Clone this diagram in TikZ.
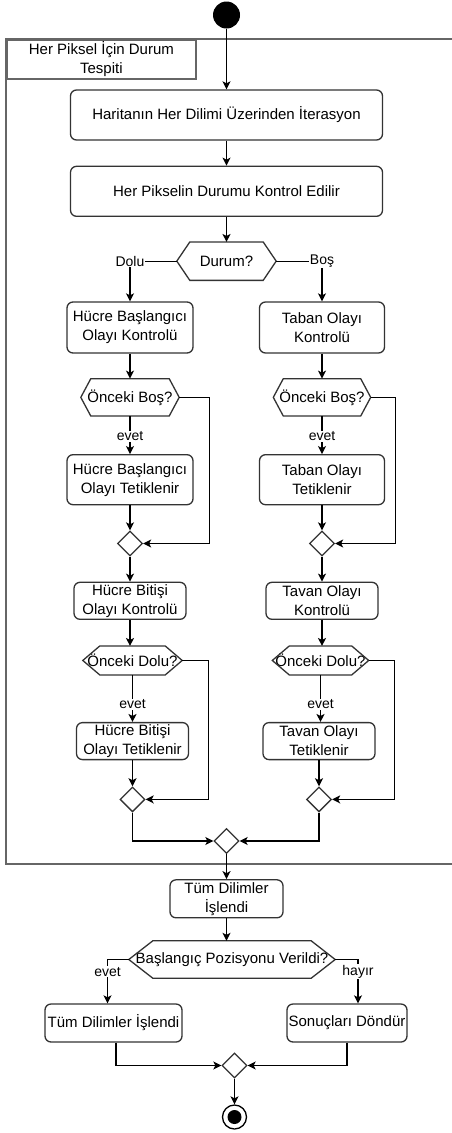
\documentclass[tikz,border=0pt]{standalone}
\usepackage{fontspec}
\setmainfont{Liberation Sans}
\usepackage{tikz}
\usetikzlibrary{arrows.meta,positioning,calc,shapes.geometric}

\begin{document}
\begin{tikzpicture}[
  x=1pt,y=-1pt,
  node distance=25pt,
  action/.style={draw=black!80,fill=white,rectangle,rounded corners=6pt,
    align=center,line width=1.3pt,inner sep=0pt,
    font=\fontsize{15}{19}\selectfont},
  decision/.style={rectangle,inner sep=0pt,align=center,
    font=\fontsize{15}{19}\selectfont},
  merge/.style={draw=black!80,fill=white,diamond,aspect=1,inner sep=0pt,
    minimum width=25pt,minimum height=25pt,line width=1.3pt},
  frame/.style={draw=black!60,line width=1.8pt},
  lbl/.style={fill=white,inner sep=1pt,font=\fontsize{14}{16}\selectfont},
  arrow/.style={-{Stealth[length=8pt,width=8pt,inset=2pt]},draw=black,line width=1.3pt}
]
  \useasboundingbox (0,0) rectangle (452,1133);

  % frame of the loop region
  \draw[frame] (452,39) -- (6,39) -- (6,864) -- (452,864);
  \node[draw=black!60,line width=1.8pt,rectangle,anchor=north west,
    minimum width=189pt,minimum height=39pt,inner sep=0pt,align=center,
    font=\fontsize{15}{19}\selectfont] (title) at (6,39)
    {Her Piksel İçin Durum\\Tespiti};

  \node[circle,fill=black,minimum size=27pt,inner sep=0pt] (start) at (226.5,15) {};
  \node[action,minimum width=312pt,minimum height=50pt] (iter) at (226.5,115)
    {Haritanın Her Dilimi Üzerinden İterasyon};
  \node[action,minimum width=312pt,minimum height=50pt,below=of iter] (check)
    {Her Pikselin Durumu Kontrol Edilir};
  \node[decision,minimum width=99pt,minimum height=38pt,below=of check] (durum) {Durum?};

  % dolu branch
  \node[action,minimum width=126pt,minimum height=51pt] (hbk) at (130,327.5)
    {Hücre Başlangıcı\\Olayı Kontrolü};
  \node[decision,minimum width=98pt,minimum height=37pt,below=of hbk] (obos1) {Önceki Boş?};
  \node[action,minimum width=126pt,minimum height=50pt,below=38pt of obos1] (hbt)
    {Hücre Başlangıcı\\Olayı Tetiklenir};
  \node[merge,below=of hbt] (m1) {};
  \node[action,minimum width=112pt,minimum height=37pt,below=of m1] (hbitk)
    {Hücre Bitişi\\Olayı Kontrolü};
  \node[decision,minimum width=99pt,minimum height=28.6pt,below=26pt of hbitk,xshift=2.5pt] (odolu1)
    {Önceki Dolu?};
  \node[action,minimum width=112pt,minimum height=37pt,below=47pt of odolu1] (hbitt)
    {Hücre Bitişi\\Olayı Tetiklenir};
  \node[merge,below=26pt of hbitt] (m3) {};

  % bos branch
  \node[action,minimum width=125pt,minimum height=51pt] (tok) at (322,327.5)
    {Taban Olayı\\Kontrolü};
  \node[decision,minimum width=97pt,minimum height=37pt,below=of tok] (obos2) {Önceki Boş?};
  \node[action,minimum width=125pt,minimum height=50pt,below=38pt of obos2] (tot)
    {Taban Olayı\\Tetiklenir};
  \node[merge,below=of tot] (m2) {};
  \node[action,minimum width=112pt,minimum height=37pt,below=of m2] (tavk)
    {Tavan Olayı\\Kontrolü};
  \node[decision,minimum width=96pt,minimum height=28.6pt,below=26pt of tavk,xshift=-1.5pt] (odolu2)
    {Önceki Dolu?};
  \node[action,minimum width=112pt,minimum height=37pt,below=47pt of odolu2,xshift=-1.5pt] (tavt)
    {Tavan Olayı\\Tetiklenir};
  \node[merge,below=26pt of tavt] (m4) {};

  \node[merge] (m5) at (226.5,841) {};

  % after the loop
  \node[action,minimum width=113pt,minimum height=38pt,below=of m5] (done)
    {Tüm Dilimler\\İşlendi};
  \node[decision,minimum width=206pt,minimum height=37pt] (bpv) at (232,959.5)
    {Başlangıç Pozisyonu Verildi?};
  \node[action,minimum width=137pt,minimum height=38pt] (tdi) at (113.5,1023)
    {Tüm Dilimler İşlendi};
  \node[action,minimum width=120pt,minimum height=38pt] (sd) at (347,1023)
    {Sonuçları Döndür};
  \node[merge] (m6) at (234.5,1065.5) {};
  \node[circle,draw=black,line width=1.3pt,minimum size=24pt,inner sep=0pt] (end) at (234.5,1117) {};
  \node[circle,fill=black,minimum size=14pt,inner sep=0pt] (endin) at (end) {};

  % hexagon outlines
  \foreach \n/\d in {durum/13,obos1/10,obos2/10,odolu1/17,odolu2/17,bpv/24}
    \draw[draw=black!80,line width=1.3pt]
      (\n.west) -- ([xshift=\d pt]\n.north west) -- ([xshift=-\d pt]\n.north east)
      -- (\n.east) -- ([xshift=-\d pt]\n.south east) -- ([xshift=\d pt]\n.south west) -- cycle;

  \draw[arrow] (start) -- (iter);
  \draw[arrow] (iter) -- (check);
  \draw[arrow] (check) -- (durum);
  \draw[arrow] (durum.west) -| node[lbl] {Dolu} (hbk.north);
  \draw[arrow] (durum.east) -| node[lbl] {Boş} (tok.north);

  \draw[arrow] (hbk) -- (obos1);
  \draw[arrow] (obos1) -- node[lbl,pos=0.53] {evet} (hbt);
  \draw[arrow] (obos1.east) -- ++(30pt,0) |- (m1.east);
  \draw[arrow] (hbt) -- (m1);
  \draw[arrow] (m1) -- (hbitk);
  \draw[arrow] (hbitk) -- (hbitk |- odolu1.north);
  \draw[arrow] (odolu1) -- node[lbl,pos=0.62] {evet} (hbitt);
  \draw[arrow] (odolu1.east) -- ++(26pt,0) |- (m3.east);
  \draw[arrow] (hbitt) -- (m3);

  \draw[arrow] (tok) -- (obos2);
  \draw[arrow] (obos2) -- node[lbl,pos=0.53] {evet} (tot);
  \draw[arrow] (obos2.east) -- ++(25pt,0) |- (m2.east);
  \draw[arrow] (tot) -- (m2);
  \draw[arrow] (m2) -- (tavk);
  \draw[arrow] (tavk) -- (tavk |- odolu2.north);
  \draw[arrow] (odolu2) -- node[lbl,pos=0.62] {evet} (odolu2 |- tavt.north);
  \draw[arrow] (odolu2.east) -- ++(26pt,0) |- (m4.east);
  \draw[arrow] (tavt) -- (m4);

  \draw[arrow] (m3) |- (m5);
  \draw[arrow] (m4) |- (m5);
  \draw[arrow] (m5) -- (done);
  \draw[arrow] (done) -- (done |- bpv.north);
  \draw[arrow] (bpv.west) -| node[lbl,pos=0.64] {evet} ([xshift=-6pt]tdi.north);
  \draw[arrow] (bpv.east) -| node[lbl,pos=0.64] {hayır} ([xshift=11pt]sd.north);
  \draw[arrow] ([xshift=2.5pt]tdi.south) |- (m6.west);
  \draw[arrow] (sd) |- (m6);
  \draw[arrow] (m6) -- (end);
\end{tikzpicture}
\end{document}
